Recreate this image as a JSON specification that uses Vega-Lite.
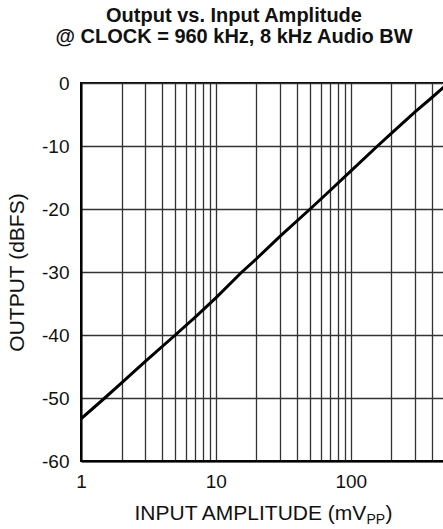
{
  "$schema": "https://vega.github.io/schema/vega-lite/v6.json",
  "autosize": {"type": "none"},
  "padding": {"left": 81, "top": 83, "right": 0, "bottom": 68},
  "width": 364,
  "height": 378,
  "background": "white",
  "title": {
    "text": ["Output vs. Input Amplitude", "@ CLOCK = 960 kHz, 8 kHz Audio BW"],
    "font": "Liberation Sans",
    "fontSize": 20,
    "fontWeight": "bold",
    "color": "#111111",
    "anchor": "middle",
    "frame": "group",
    "lineHeight": 21,
    "dx": -29,
    "offset": 27
  },
  "config": {
    "view": {"stroke": "#000000", "strokeWidth": 2},
    "axis": {
      "labelFont": "Liberation Sans",
      "titleFont": "Liberation Sans",
      "labelColor": "#111111",
      "titleColor": "#111111",
      "gridColor": "#333333",
      "gridWidth": 1.3,
      "gridOpacity": 1,
      "domainColor": "#000000",
      "domainWidth": 2,
      "ticks": false
    }
  },
  "data": {
    "values": [
      {"input": 1, "output": -53.3},
      {"input": 1.5, "output": -50},
      {"input": 2, "output": -47.6},
      {"input": 3, "output": -44.2},
      {"input": 5, "output": -40},
      {"input": 7, "output": -37.2},
      {"input": 10, "output": -34.1},
      {"input": 15.6, "output": -30},
      {"input": 20, "output": -27.9},
      {"input": 30, "output": -24.3},
      {"input": 50, "output": -20},
      {"input": 70, "output": -17.1},
      {"input": 100, "output": -14.0},
      {"input": 158, "output": -10},
      {"input": 200, "output": -8},
      {"input": 300, "output": -4.6},
      {"input": 400, "output": -2.3},
      {"input": 480, "output": -0.8},
      {"input": 500, "output": -0.5}
    ]
  },
  "encoding": {
    "y": {
      "field": "output",
      "type": "quantitative",
      "scale": {"domain": [-60, 0], "nice": false, "zero": false},
      "axis": {
        "values": [-60, -50, -40, -30, -20, -10, 0],
        "labelExpr": "datum.value + ''",
        "title": "OUTPUT (dBFS)",
        "titleFontSize": 21,
        "titleFontWeight": "normal",
        "labelFontSize": 19,
        "labelPadding": 12,
        "titlePadding": 14
      }
    }
  },
  "layer": [
    {
      "mark": {"type": "line", "color": "#000000", "strokeWidth": 3, "clip": true},
      "encoding": {
        "x": {
          "field": "input",
          "type": "quantitative",
          "scale": {"type": "log", "domain": [1, 500], "nice": false},
          "axis": {
            "orient": "bottom",
            "values": [1, 2, 3, 4, 5, 6, 7, 8, 9, 10, 20, 30, 40, 50, 60, 70, 80, 90, 100, 200, 300, 400, 500],
            "labelExpr": "datum.value == 1 || datum.value == 10 || datum.value == 100 ? format(datum.value, 'd') : ''",
            "labelFontSize": 19,
            "labelPadding": 11,
            "labelFlush": false,
            "labelOverlap": false,
            "title": "INPUT AMPLITUDE (mV",
            "titleFontSize": 21,
            "titleFontWeight": "normal",
            "titleAlign": "left",
            "titleBaseline": "top",
            "titleX": 53,
            "titleY": 41
          }
        }
      }
    },
    {
      "mark": {"type": "line", "opacity": 0},
      "encoding": {
        "x": {
          "field": "input",
          "type": "quantitative",
          "axis": {
            "orient": "bottom",
            "grid": false,
            "labels": false,
            "domain": false,
            "title": "PP",
            "titleFontSize": 14,
            "titleFontWeight": "normal",
            "titleAlign": "left",
            "titleBaseline": "top",
            "titleX": 285,
            "titleY": 51
          }
        }
      }
    },
    {
      "mark": {"type": "line", "opacity": 0},
      "encoding": {
        "x": {
          "field": "input",
          "type": "quantitative",
          "axis": {
            "orient": "bottom",
            "grid": false,
            "labels": false,
            "domain": false,
            "title": ")",
            "titleFontSize": 21,
            "titleFontWeight": "normal",
            "titleAlign": "left",
            "titleBaseline": "top",
            "titleX": 304,
            "titleY": 41
          }
        }
      }
    }
  ],
  "resolve": {"axis": {"x": "independent"}}
}
